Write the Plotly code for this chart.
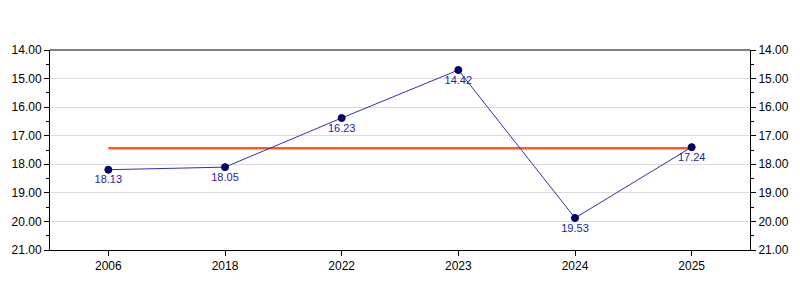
import plotly.graph_objects as go

categories = ["2006", "2018", "2022", "2023", "2024", "2025"]
values = [18.19, 18.10, 16.38, 14.70, 19.88, 17.40]
labels = ["18.13", "18.05", "16.23", "14.42", "19.53", "17.24"]
y_ticks = [14, 15, 16, 17, 18, 19, 20, 21]
y_tick_text = ["%.2f" % v for v in y_ticks]

mean_val = sum(values) / len(values)

fig = go.Figure()
fig.add_trace(go.Scatter(
    x=[categories[0], categories[-1]], y=[mean_val, mean_val],
    mode="lines", line=dict(color="#ff5a1f", width=2.5),
    hoverinfo="skip", showlegend=False,
))
fig.add_trace(go.Scatter(
    x=categories, y=values, mode="lines+markers+text",
    line=dict(color="#3030b0", width=1),
    marker=dict(color="#000080", size=7, line=dict(color="#000033", width=1)),
    text=labels, textposition="bottom center",
    textfont=dict(family="Liberation Sans, Arial", size=11, color="#1c1ca8"),
    showlegend=False,
))
# invisible trace for right axis
fig.add_trace(go.Scatter(x=categories, y=values, yaxis="y2", mode="markers",
                         marker=dict(opacity=0), hoverinfo="skip", showlegend=False))

axis_font = dict(family="Liberation Sans, Arial", size=12, color="black")
yaxis_common = dict(
    range=[21, 14], tickvals=y_ticks, ticktext=y_tick_text,
    ticks="outside", ticklen=5, tickcolor="black", showline=True,
    linecolor="black", linewidth=1, tickfont=axis_font, zeroline=False,
    minor=dict(dtick=0.5, ticks="outside", ticklen=3, tickcolor="black", showgrid=False),
)
fig.update_layout(
    width=800, height=300,
    margin=dict(l=50, r=50, t=50, b=50),
    plot_bgcolor="white", paper_bgcolor="white",
    xaxis=dict(type="category", categoryorder="array", categoryarray=categories,
               range=[-0.5, 5.5], ticks="outside", ticklen=5,
               tickcolor="black", showline=True, linecolor="black", mirror=False,
               showgrid=False, tickfont=axis_font),
    yaxis=dict(**yaxis_common, showgrid=True, gridcolor="#dcdcdc", gridwidth=1),
    yaxis2=dict(**yaxis_common, overlaying="y", side="right", showgrid=False),
    shapes=[dict(type="line", xref="paper", yref="paper", x0=0, x1=1, y0=1, y1=1,
                 line=dict(color="black", width=1))],
)
fig.write_html("out.html")
